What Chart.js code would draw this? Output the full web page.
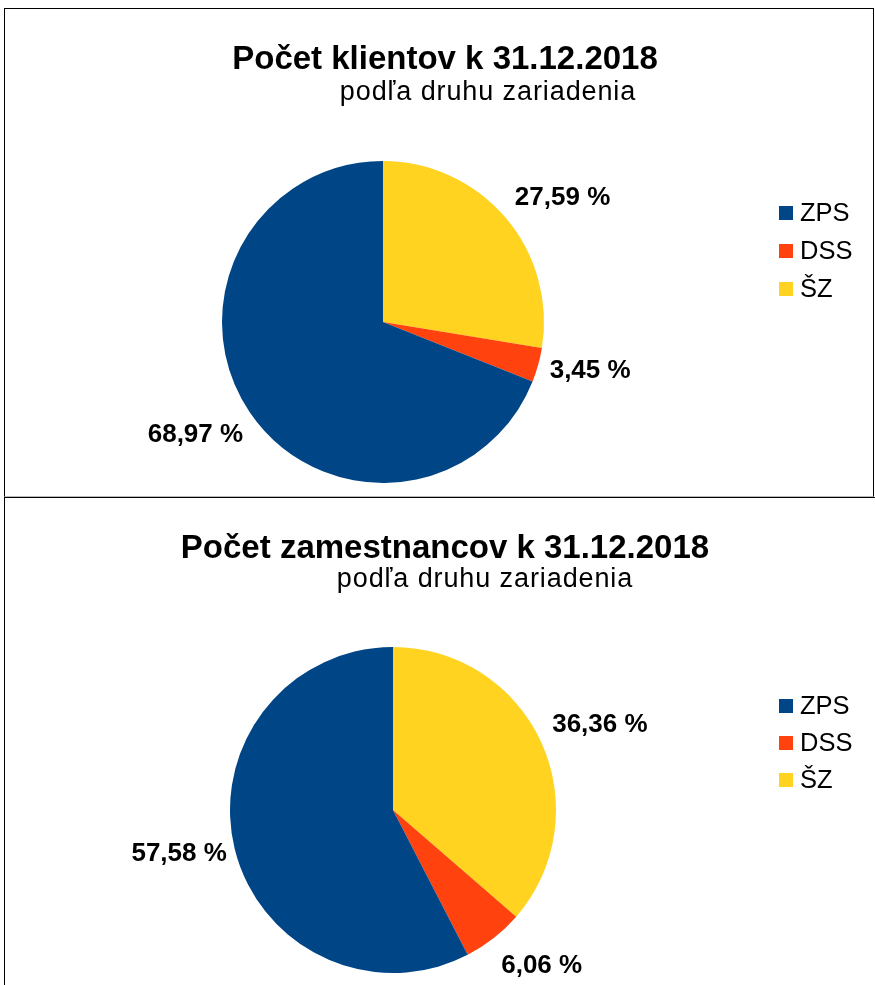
<!DOCTYPE html>
<html>
<head>
<meta charset="utf-8">
<script src="https://cdn.jsdelivr.net/npm/chart.js@4.4.1/dist/chart.umd.min.js"></script>
<style>
  body { margin: 0; background: #fff; }
  #page { position: relative; width: 875px; height: 985px; overflow: hidden; }
  .box { position: absolute; left: 0; }
  .frame { position: absolute; box-sizing: border-box; pointer-events: none; }
</style>
</head>
<body>
<div id="page">
  <div class="box" style="top:0;width:875px;height:496px"><canvas id="clients-chart" width="875" height="496"></canvas></div>
  <div class="box" style="top:496px;width:875px;height:489px"><canvas id="staff-chart" width="875" height="489"></canvas></div>
  <div class="frame" style="left:4px;top:8px;width:870px;height:489px;border:1px solid #000;border-bottom:1px solid #bbb"></div>
  <div class="frame" style="left:4px;top:497px;width:880px;height:500px;border-top:1px solid #000;border-left:1px solid #000"></div>
</div>
<script>
const facilityTypes = ['ZPS', 'DSS', 'ŠZ'];
const clientShares = [68.97, 3.45, 27.59];
const staffShares = [57.58, 6.06, 36.36];
const sliceColors = ['#004586', '#ff420e', '#ffd320'];

const FONT = '"Liberation Sans", Arial, sans-serif';

function formatShare(v) {
  return v.toFixed(2).replace('.', ',') + ' %';
}

function clamp(v) {
  return Math.max(-1, Math.min(1, v));
}

// titles, outside labels and legend drawn on top of the pie
const decorPlugin = {
  id: 'decor',
  afterDraw(chart, args, opts) {
    const ctx = chart.ctx;
    ctx.save();
    ctx.fillStyle = '#000';
    ctx.textBaseline = 'middle';

    ctx.textAlign = 'center';
    ctx.font = 'bold ' + opts.titleSize + 'px ' + FONT;
    ctx.fillText(opts.title, opts.titleX, opts.titleY);
    ctx.font = opts.subSize + 'px ' + FONT;
    ctx.letterSpacing = '0.9px';
    ctx.fillText(opts.subtitle, opts.subX, opts.subY);
    ctx.letterSpacing = '0px';

    // percentage labels outside slices
    ctx.font = 'bold ' + opts.labelSize + 'px ' + FONT;
    const meta = chart.getDatasetMeta(0);
    const values = chart.data.datasets[0].data;
    meta.data.forEach((arc, i) => {
      const mid = (arc.startAngle + arc.endAngle) / 2;
      const dx = Math.cos(mid);
      const dy = Math.sin(mid);
      const r = arc.outerRadius + (dx < 0 ? opts.gap - 4 : opts.gap);
      const ax = arc.x + dx * r;
      const ay = arc.y + dy * r;
      const text = formatShare(values[i]);
      const w = ctx.measureText(text).width;
      const h = 30;
      const kx = clamp(dx * 2);
      const ky = Math.sign(dy) * Math.max(0, Math.min(1, (Math.abs(dy) - 0.27) / 0.13));
      ctx.textAlign = 'center';
      ctx.fillText(text, ax + kx * w / 2, ay + ky * h / 2 + 3);
    });

    // legend in the original order
    ctx.textAlign = 'left';
    ctx.font = opts.legendSize + 'px ' + FONT;
    facilityTypes.forEach((name, i) => {
      const y = opts.legendY + i * opts.legendStep;
      ctx.fillStyle = sliceColors[i];
      ctx.fillRect(opts.legendX, y - 7, 14, 14);
      ctx.fillStyle = '#000';
      ctx.fillText(name, opts.legendX + 21, y + 1);
    });
    ctx.restore();
  }
};

function createPieChart(canvasId, shares, decor, padding) {
  // slices run counter-clockwise from 12 o'clock, so feed them reversed
  const order = [2, 1, 0];
  const config = {
    type: 'pie',
    data: {
      labels: order.map((i) => facilityTypes[i]),
      datasets: [{
        data: order.map((i) => shares[i]),
        backgroundColor: order.map((i) => sliceColors[i]),
        borderWidth: 0,
      }],
    },
    options: {
      responsive: false,
      animation: false,
      layout: { padding: padding },
      plugins: {
        legend: { display: false },
        tooltip: { enabled: false },
        decor: decor,
      },
    },
    plugins: [decorPlugin],
  };
  const ctx = document.getElementById(canvasId).getContext('2d');
  return new Chart(ctx, config);
}

createPieChart('clients-chart', clientShares, {
  title: 'Počet klientov k 31.12.2018',
  subtitle: 'podľa druhu zariadenia',
  titleX: 445, titleY: 60, titleSize: 33,
  subX: 488, subY: 93, subSize: 27,
  labelSize: 26, gap: 12,
  legendX: 779, legendY: 213, legendStep: 38, legendSize: 25.5,
}, { left: 222, right: 331, top: 161, bottom: 13 });

createPieChart('staff-chart', staffShares, {
  title: 'Počet zamestnancov k 31.12.2018',
  subtitle: 'podľa druhu zariadenia',
  titleX: 445, titleY: 53, titleSize: 33,
  subX: 485, subY: 84, subSize: 27,
  labelSize: 26, gap: 12,
  legendX: 779, legendY: 210, legendStep: 37, legendSize: 25.5,
}, { left: 230, right: 319, top: 151, bottom: 12 });
</script>
</body>
</html>
